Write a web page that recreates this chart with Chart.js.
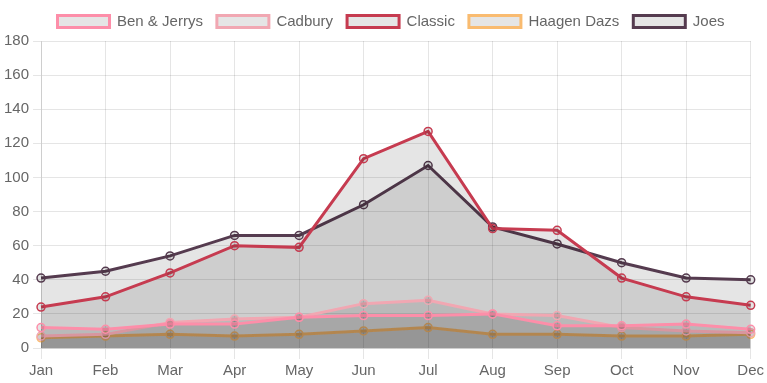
<!DOCTYPE html>
<html>
<head>
<meta charset="utf-8">
<script src="https://cdn.jsdelivr.net/npm/chart.js@4/dist/chart.umd.min.js"></script>
<style>
  html, body { margin: 0; padding: 0; background: #ffffff; }
  #wrap { width: 767px; height: 383px; }
</style>
</head>
<body>
<div id="wrap"><canvas id="c" width="767" height="383"></canvas></div>
<script>
const months = ['Jan', 'Feb', 'Mar', 'Apr', 'May', 'Jun', 'Jul', 'Aug', 'Sep', 'Oct', 'Nov', 'Dec'];
const benJerrys = [12, 11, 14, 14, 18, 19, 19, 20, 13, 13, 14, 11];
const cadbury = [7, 8, 15, 17, 18, 26, 28, 20, 19, 12, 10, 9];
const classic = [24, 30, 44, 60, 59, 111, 127, 70, 69, 41, 30, 25];
const haagenDazs = [6, 7, 8, 7, 8, 10, 12, 8, 8, 7, 7, 8];
const joes = [41, 45, 54, 66, 66, 84, 107, 71, 61, 50, 41, 40];
const seriesNames = ['Ben & Jerrys', 'Cadbury', 'Classic', 'Haagen Dazs', 'Joes'];
const seriesColors = ['#fd8ea9', '#f1a7b2', '#c63b50', '#f9bb70', '#553b4f'];
const seriesValues = [benJerrys, cadbury, classic, haagenDazs, joes];

Chart.defaults.font.family = '"Liberation Sans", Arial, sans-serif';
Chart.defaults.font.size = 15;
Chart.defaults.color = '#666';

const fillColor = 'rgba(0,0,0,0.1)';

const legendMargin = {
  id: 'legendMargin',
  beforeInit(chart) {
    const origFit = chart.legend.fit;
    chart.legend.fit = function () {
      origFit.call(this);
      this.height += 2;
    };
  },
  afterLayout(chart) {
    chart.legend.left += 8;
    chart.legend.right += 8;
  }
};

new Chart(document.getElementById('c'), {
  type: 'line',
  data: {
    labels: months,
    datasets: seriesNames.map((name, i) => ({
      label: name,
      data: seriesValues[i],
      borderColor: seriesColors[i],
      backgroundColor: fillColor,
      borderWidth: 3,
      fill: 'origin',
      tension: 0,
      pointRadius: 4,
      pointBorderWidth: 1.5,
      pointBackgroundColor: fillColor,
      pointBorderColor: seriesColors[i]
    }))
  },
  plugins: [legendMargin],
  options: {
    responsive: false,
    animation: false,
    layout: { padding: { top: 0, left: 0, right: 1 } },
    plugins: {
      legend: {
        labels: { boxWidth: 52, boxHeight: 12, padding: 14, font: { size: 15 } }
      },
      tooltip: { enabled: false }
    },
    scales: {
      x: {
        grid: { color: 'rgba(0,0,0,0.1)', tickLength: 11 },
        ticks: { padding: 3, font: { size: 15, lineHeight: 1.2 } }
      },
      y: {
        min: 0,
        max: 180,
        ticks: { stepSize: 20, padding: 4, font: { size: 15 } },
        grid: { color: 'rgba(0,0,0,0.1)' }
      }
    }
  }
});
</script>
</body>
</html>
